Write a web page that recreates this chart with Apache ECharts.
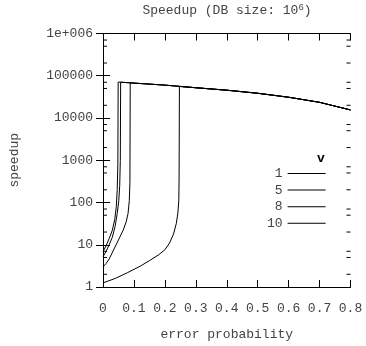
<!DOCTYPE html>
<html>
<head>
<meta charset="utf-8">
<script src="https://cdn.jsdelivr.net/npm/echarts@6/dist/echarts.min.js"></script>
<style>
  html, body { margin: 0; padding: 0; background: #fff; }
  #chart { width: 366px; height: 346px; }
</style>
</head>
<body>
<div id="chart"></div>
<script>
// Speedup versus error probability for several values of v (log y scale)
const FONT = '"Liberation Mono", "Courier New", monospace';
const TEXT_COLOR = '#444';

const xTickValues = [0, 0.1, 0.2, 0.3, 0.4, 0.5, 0.6, 0.7, 0.8];
const yTickLabels = { 1: '1', 10: '10', 100: '100', 1000: '1000', 10000: '10000', 100000: '100000', 1000000: '1e+006' };
const yMinorTicks = [2, 5, 7, 20, 50, 70, 200, 500, 700, 2000, 5000, 7000, 20000, 50000, 70000, 200000, 500000, 700000];

const seriesNames = ['1', '5', '8', '10'];

// rising part of each curve, up to where it jumps onto the common ceiling
const probV1 = [0, 0.04, 0.08, 0.12, 0.15, 0.18, 0.2, 0.215, 0.228, 0.237, 0.242, 0.245, 0.246, 0.247];
const speedV1 = [1.25, 1.6, 2.2, 3.1, 4.2, 5.8, 7.6, 11, 18, 32, 56, 110, 400, 55800];

const probV5 = [0, 0.01, 0.02, 0.034, 0.05, 0.065, 0.075, 0.081, 0.085, 0.087, 0.088];
const speedV5 = [3.0, 3.6, 4.6, 7.5, 13, 22, 35, 55, 110, 300, 68000];

const probV8 = [0, 0.01, 0.02, 0.03, 0.039, 0.046, 0.051, 0.054, 0.056, 0.057];
const speedV8 = [5.2, 7, 10, 15, 27, 55, 110, 250, 1000, 70500];

const probV10 = [0, 0.01, 0.02, 0.03, 0.038, 0.043, 0.046, 0.048, 0.049];
const speedV10 = [6.8, 9.5, 14, 22, 40, 80, 200, 800, 71000];

// common ceiling that every curve follows afterwards
const ceilingProb = [0.1, 0.2, 0.3, 0.4, 0.5, 0.6, 0.7, 0.8];
const ceilingSpeed = [67000, 60000, 52000, 45500, 38500, 31000, 23500, 15500];

function buildCurve(probs, speeds) {
  const pts = probs.map((p, i) => [p, speeds[i]]);
  const last = probs[probs.length - 1];
  ceilingProb.forEach((p, i) => { if (p > last) pts.push([p, ceilingSpeed[i]]); });
  return pts;
}

const curves = [
  buildCurve(probV1, speedV1),
  buildCurve(probV5, speedV5),
  buildCurve(probV8, speedV8),
  buildCurve(probV10, speedV10)
];

const chart = echarts.init(document.getElementById('chart'), null, { renderer: 'canvas' });

const axisLineStyle = { color: '#000', width: 1 };
const labelStyle = { color: TEXT_COLOR, fontFamily: FONT, fontSize: 13 };

const lineSeries = seriesNames.map((name, i) => ({
  name: name,
  type: 'line',
  data: curves[i],
  showSymbol: false,
  symbol: 'none',
  animation: false,
  lineStyle: { color: '#000', width: 1 },
  itemStyle: { color: '#000' },
  z: 3
}));

// short minor ticks on both vertical sides of the frame
const minorTickSeries = {
  type: 'custom',
  data: yMinorTicks.map(v => [0, v]),
  silent: true,
  animation: false,
  renderItem: function (params, api) {
    const v = api.value(1);
    const l = api.coord([0, v]);
    const r = api.coord([0.8, v]);
    return {
      type: 'group',
      children: [
        { type: 'line', shape: { x1: l[0], y1: l[1], x2: l[0] + 4, y2: l[1] }, style: { stroke: '#000', lineWidth: 1 } },
        { type: 'line', shape: { x1: r[0], y1: r[1], x2: r[0] - 4, y2: r[1] }, style: { stroke: '#000', lineWidth: 1 } }
      ]
    };
  },
  z: 2
};

chart.setOption({
  animation: false,
  backgroundColor: '#fff',
  title: {
    text: 'Speedup (DB size: 10{sup|6})',
    left: 222,
    top: -2,
    textAlign: 'center',
    textStyle: {
      color: TEXT_COLOR,
      fontFamily: FONT,
      fontSize: 13,
      fontWeight: 'normal',
      rich: {
        sup: { fontFamily: FONT, fontSize: 9, color: TEXT_COLOR, verticalAlign: 'top', padding: [0, 0, 6, 0] }
      }
    }
  },
  grid: { left: 96, right: 15.5, top: 33.5, bottom: 59, containLabel: false },
  legend: {
    data: seriesNames,
    orient: 'vertical',
    left: 262,
    top: 162,
    align: 'right',
    itemWidth: 38,
    itemHeight: 1,
    itemGap: 3.6,
    icon: 'rect',
    formatter: name => name.padStart(2, ' '),
    textStyle: { color: TEXT_COLOR, fontFamily: FONT, fontSize: 13, lineHeight: 13 },
    selectedMode: false
  },
  graphic: [
    {
      type: 'text',
      left: 317,
      top: 152,
      style: { text: 'v', fill: '#000', font: 'bold 13px ' + FONT }
    }
  ],
  xAxis: [
    {
      type: 'value',
      min: 0,
      max: 0.8,
      interval: 0.1,
      position: 'bottom',
      name: 'error probability',
      nameLocation: 'middle',
      nameGap: 41,
      nameTextStyle: labelStyle,
      axisLine: { show: true, lineStyle: axisLineStyle },
      axisTick: { show: true, inside: true, length: 7, lineStyle: axisLineStyle },
      axisLabel: { ...labelStyle, margin: 15, formatter: v => (v === 0 ? '0' : v.toFixed(1)) },
      splitLine: { show: false }
    },
    {
      type: 'value',
      min: 0,
      max: 0.8,
      interval: 0.1,
      position: 'top',
      axisLine: { show: true, lineStyle: axisLineStyle },
      axisTick: { show: true, inside: true, length: 7, lineStyle: axisLineStyle },
      axisLabel: { show: false },
      splitLine: { show: false }
    }
  ],
  yAxis: [
    {
      type: 'log',
      logBase: 10,
      min: 1,
      max: 1000000,
      splitNumber: 6,
      position: 'left',
      name: 'speedup',
      nameLocation: 'middle',
      nameGap: 82,
      nameTextStyle: labelStyle,
      axisLine: { show: true, lineStyle: axisLineStyle },
      axisTick: { show: true, inside: true, length: 7, lineStyle: axisLineStyle },
      axisLabel: { ...labelStyle, margin: 10, formatter: v => yTickLabels[Math.round(v)] || '' },
      splitLine: { show: false }
    },
    {
      type: 'log',
      logBase: 10,
      min: 1,
      max: 1000000,
      splitNumber: 6,
      position: 'right',
      axisLine: { show: true, lineStyle: axisLineStyle },
      axisTick: { show: true, inside: true, length: 7, lineStyle: axisLineStyle },
      axisLabel: { show: false },
      splitLine: { show: false }
    }
  ],
  series: [minorTickSeries, ...lineSeries]
});
</script>
</body>
</html>
